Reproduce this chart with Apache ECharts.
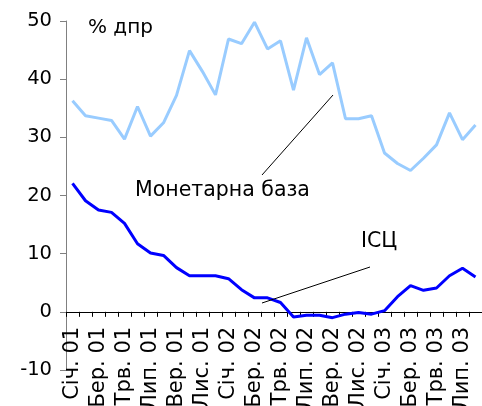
<!DOCTYPE html>
<html>
<head>
<meta charset="utf-8">
<script src="https://cdn.jsdelivr.net/npm/echarts@6/dist/echarts.min.js"></script>
<style>html,body{margin:0;padding:0;background:#fff}#c{width:482px;height:406px}</style>
</head>
<body>
<div id="c"></div>
<script>
var categories = ['Січ. 01','Лют. 01','Бер. 01','Квт. 01','Трв. 01','Чрв. 01','Лип. 01','Сер. 01','Вер. 01','Жов. 01','Лис. 01','Гру. 01',
  'Січ. 02','Лют. 02','Бер. 02','Квт. 02','Трв. 02','Чрв. 02','Лип. 02','Сер. 02','Вер. 02','Жов. 02','Лис. 02','Гру. 02',
  'Січ. 03','Лют. 03','Бер. 03','Квт. 03','Трв. 03','Чрв. 03','Лип. 03','Сер. 03'];
var monetaryBase = [36.3,33.7,33.3,32.9,29.7,35.3,30.2,32.5,37.2,44.9,41.3,37.3,
  46.9,46.1,49.8,45.2,46.6,38.1,47.1,40.8,42.8,33.2,33.2,33.7,
  27.3,25.5,24.3,26.4,28.7,34.2,29.6,32.1];
var cpi = [22.1,19.1,17.5,17.1,15.2,11.7,10.1,9.7,7.6,6.2,6.2,6.2,
  5.7,3.8,2.4,2.4,1.6,-0.9,-0.6,-0.6,-1.0,-0.4,-0.1,-0.4,
  0.2,2.6,4.5,3.7,4.1,6.2,7.5,6.0];
var yTicks = {min:-10, max:50, interval:10};
var FONT = 'DejaVu Sans';
var GRID_TOP = 21, GRID_BOTTOM = 36, H = 406;
var plotH = H - GRID_TOP - GRID_BOTTOM;
var zeroOffset = plotH * (0 - yTicks.min) / (yTicks.max - yTicks.min);
var chart = echarts.init(document.getElementById('c'));
chart.setOption({
  animation:false,
  grid:{left:66, right:0, top:GRID_TOP, bottom:GRID_BOTTOM, containLabel:false, outerBoundsMode:'none'},
  xAxis:{type:'category', data:categories, boundaryGap:true, position:'bottom', offset:-zeroOffset,
    axisLine:{onZero:false, lineStyle:{color:'#000', width:1}},
    axisTick:{show:true, interval:0, length:5, lineStyle:{color:'#000'}},
    axisLabel:{interval:1, rotate:90, fontSize:21, fontFamily:FONT, color:'#000', margin:15}
  },
  yAxis:{type:'value', min:yTicks.min, max:yTicks.max, interval:yTicks.interval,
    splitLine:{show:false},
    axisLine:{show:true, lineStyle:{color:'#808080', width:1}},
    axisTick:{show:true, length:6, lineStyle:{color:'#808080'}},
    axisLabel:{fontSize:19.5, fontFamily:FONT, color:'#000', margin:14}
  },
  series:[
    {name:'Монетарна база', type:'line', data:monetaryBase, symbol:'none',
      lineStyle:{color:'#99CCFF', width:3}, z:2},
    {name:'ІСЦ', type:'line', data:cpi, symbol:'none',
      lineStyle:{color:'#0000FF', width:3}, z:3}
  ],
  graphic:[
    {type:'text', left:88, top:18, style:{text:'% дпр', font:'20px "DejaVu Sans"', fill:'#000'}},
    {type:'text', left:135, top:180, style:{text:'Монетарна база', font:'20.5px "DejaVu Sans"', fill:'#000'}},
    {type:'text', left:361, top:231, style:{text:'ІСЦ', font:'20.5px "DejaVu Sans"', fill:'#000'}},
    {type:'line', shape:{x1:262, y1:175, x2:333, y2:95}, style:{stroke:'#000', lineWidth:1}, z:10},
    {type:'line', shape:{x1:262, y1:303, x2:370, y2:267}, style:{stroke:'#000', lineWidth:1}, z:10}
  ]
});
</script>
</body>
</html>
